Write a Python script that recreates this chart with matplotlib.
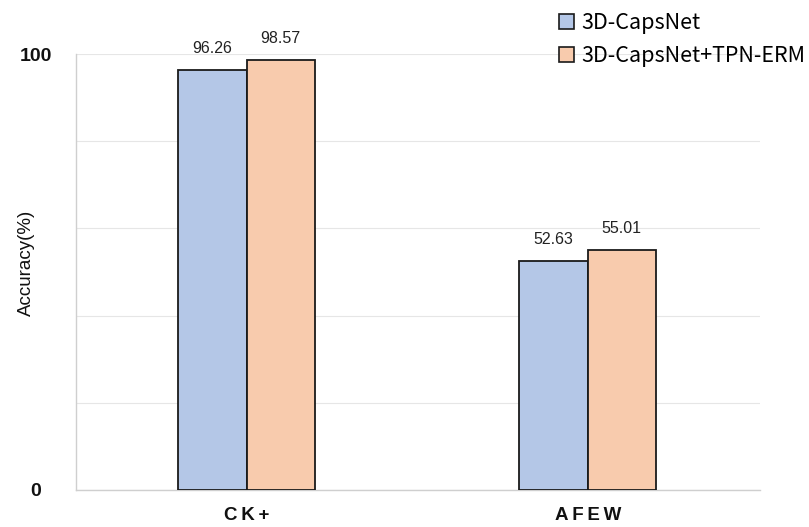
import matplotlib
matplotlib.use("Agg")
import matplotlib.pyplot as plt
import numpy as np
from matplotlib.patches import Patch

datasets = ["CK+", "AFEW"]
series_names = ["3D-CapsNet", "3D-CapsNet+TPN-ERM"]
baseline = [96.26, 52.63]
improved = [98.57, 55.01]
colors = ["#B4C7E7", "#F8CBAD"]

fig = plt.figure(figsize=(8.09, 5.27), dpi=100)
ax = fig.add_axes([76 / 809, 37 / 527, 684 / 809, 436 / 527])

x = np.arange(len(datasets))
w = 0.2
for vals, off, col in [(baseline, -w / 2, colors[0]), (improved, w / 2, colors[1])]:
    bars = ax.bar(x + off, vals, width=w, color=col, edgecolor="#1a1a1a", linewidth=1.3, zorder=3)
    for b, v in zip(bars, vals):
        ax.text(b.get_x() + b.get_width() / 2, v + 3.9, f"{v:.2f}", ha="center", va="baseline",
                fontsize=11.5, family="Liberation Sans", color="#222222")

ax.set_xlim(-0.5, 1.505)
ax.set_ylim(0, 100)
ax.set_yticks([0, 20, 40, 60, 80, 100])
ax.set_yticklabels(["0", "", "", "", "", "100"], fontsize=14, family="Liberation Sans",
                   fontweight="bold", color="#111111")
for lbl in ax.get_yticklabels():
    lbl.set_horizontalalignment("center")
ax.tick_params(axis="y", length=0, pad=29)
ax.set_xticks(x)
ax.set_xticklabels(["\u2009".join(d) for d in datasets], fontsize=13.5, family="Liberation Sans",
                   fontweight="bold", color="#111111")
ax.tick_params(axis="x", length=0, pad=12)
ax.grid(axis="y", color="#e6e6e6", linewidth=0.8, zorder=0)
for s in ["top", "right"]:
    ax.spines[s].set_visible(False)
for s in ["left", "bottom"]:
    ax.spines[s].set_color("#cfcfcf")
    ax.spines[s].set_linewidth(1.0)

fig.text(26 / 809, 1 - 263 / 527, "Accuracy(%)", rotation=90, ha="center", va="center",
         fontsize=13.5, family="Liberation Sans", color="#111111")

handles = [Patch(facecolor=c, edgecolor="#1a1a1a", linewidth=1.2) for c in colors]
fig.legend(handles, series_names, loc="upper left", bbox_to_anchor=(540 / 809, 1 + 7 / 527),
           frameon=False, prop={"family": "Noto Sans CJK SC", "size": 15.5, "weight": "medium"},
           handlelength=0.7, handleheight=0.7, handletextpad=0.3, labelspacing=0.5)

fig.savefig("out.png", dpi=100)
